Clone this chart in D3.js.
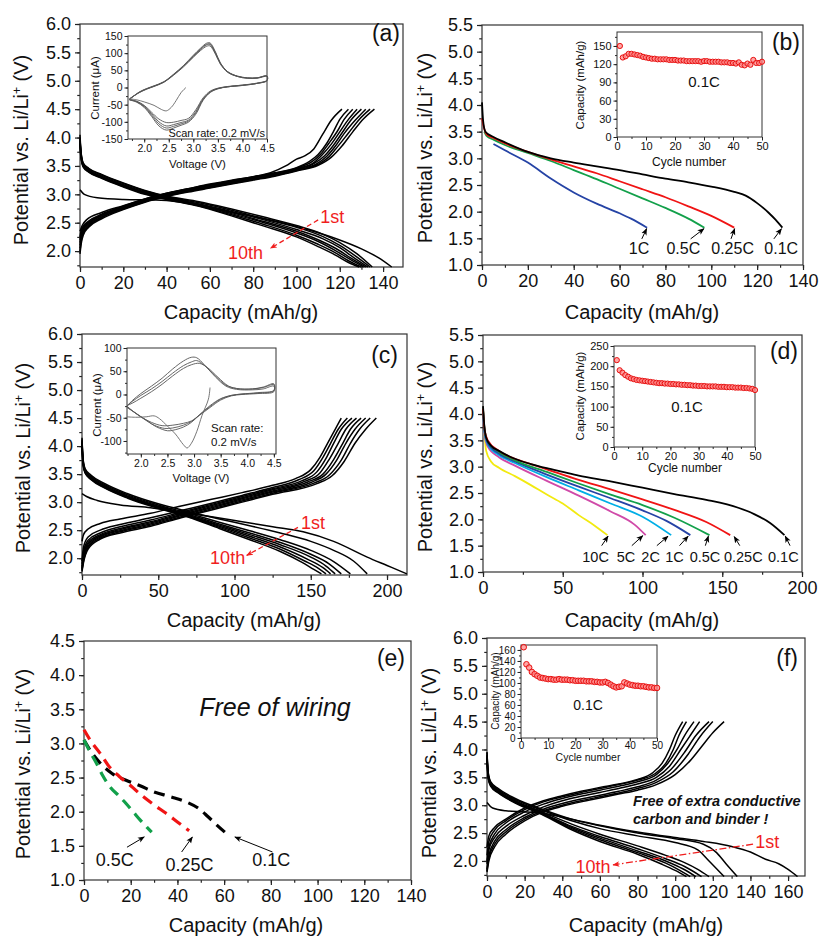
<!DOCTYPE html>
<html>
<head>
<meta charset="utf-8">
<script src="https://cdn.jsdelivr.net/npm/d3@7/dist/d3.min.js"></script>
<style>
  body { margin: 0; background: #fff; }
  svg { font-family: "Liberation Sans", Arial, Helvetica, sans-serif; }
</style>
</head>
<body>
<svg id="fig" width="820" height="937"></svg>
<script>
// ---- data ----

// (a) charge / discharge, [capacity mAh/g, potential V]
const aDischarge = [
  [[0,3.08],[2,3.0],[8,2.94],[20,2.91],[35,2.9],[45,2.87],[60,2.76],[75,2.65],[90,2.53],[105,2.38],[119,2.21],[130,2.04],[138,1.88],[144,1.72]],
  [[0,4.05],[0.4,3.78],[1.5,3.55],[4,3.46],[10,3.35],[20,3.2],[30,3.07],[40,2.97],[55,2.87],[70,2.74],[85,2.6],[100,2.45],[112,2.3],[120,2.15],[128,1.95],[135,1.72]],
  [[0,4.0],[0.4,3.76],[1.5,3.54],[4,3.45],[10,3.34],[20,3.19],[30,3.06],[40,2.96],[55,2.85],[70,2.72],[85,2.57],[100,2.42],[112,2.26],[120,2.1],[127,1.92],[134,1.72]],
  [[0,3.98],[0.4,3.74],[1.5,3.52],[4,3.43],[10,3.32],[20,3.17],[30,3.04],[40,2.95],[55,2.83],[70,2.7],[85,2.55],[100,2.38],[112,2.22],[120,2.06],[126,1.9],[133,1.72]],
  [[0,3.95],[0.4,3.72],[1.5,3.51],[4,3.42],[10,3.31],[20,3.16],[30,3.03],[40,2.94],[55,2.82],[70,2.68],[85,2.52],[100,2.35],[110,2.2],[118,2.05],[125,1.88],[132,1.72]],
  [[0,3.93],[0.4,3.7],[1.5,3.5],[4,3.41],[10,3.3],[20,3.15],[30,3.02],[40,2.93],[55,2.81],[70,2.66],[85,2.5],[100,2.32],[110,2.17],[118,2.01],[125,1.85],[131,1.72]],
  [[0,3.9],[0.4,3.68],[1.5,3.49],[4,3.4],[10,3.29],[20,3.14],[30,3.01],[40,2.92],[55,2.8],[70,2.64],[85,2.47],[100,2.28],[110,2.12],[118,1.97],[124,1.83],[130,1.72]],
  [[0,3.88],[0.4,3.66],[1.5,3.48],[4,3.39],[10,3.28],[20,3.13],[30,3.0],[40,2.91],[55,2.79],[70,2.62],[85,2.44],[100,2.25],[110,2.08],[118,1.93],[124,1.8],[129,1.72]]
];
const aCharge = [
  [[0,2.35],[1,2.45],[3,2.55],[10,2.68],[20,2.8],[30,2.92],[40,3.02],[50,3.1],[60,3.18],[70,3.25],[80,3.31],[88,3.38],[95,3.5],[100,3.62],[104,3.68],[108,3.8],[112,4.05],[116,4.3],[121,4.5]],
  [[0,2.25],[0.5,2.36],[1.5,2.44],[4,2.53],[10,2.65],[20,2.79],[30,2.92],[40,3.02],[50,3.1],[60,3.17],[70,3.24],[80,3.31],[90,3.38],[100,3.47],[106,3.58],[110,3.7],[114,3.9],[117,4.1],[120,4.32],[124,4.5]],
  [[0,2.2],[0.5,2.32],[1.5,2.42],[4,2.51],[10,2.64],[20,2.78],[30,2.91],[40,3.01],[50,3.09],[60,3.16],[70,3.23],[80,3.3],[90,3.37],[100,3.46],[107,3.57],[111,3.7],[115,3.9],[119,4.12],[122,4.32],[126,4.5]],
  [[0,2.15],[0.5,2.28],[1.5,2.4],[4,2.5],[10,2.63],[20,2.77],[30,2.9],[40,3.0],[50,3.08],[60,3.15],[70,3.22],[80,3.29],[90,3.36],[100,3.45],[108,3.56],[112,3.7],[116,3.88],[120,4.1],[124,4.32],[128,4.5]],
  [[0,2.1],[0.5,2.24],[1.5,2.37],[4,2.48],[10,2.62],[20,2.76],[30,2.89],[40,2.99],[50,3.07],[60,3.14],[70,3.21],[80,3.28],[90,3.35],[100,3.44],[108,3.54],[113,3.68],[117,3.86],[121,4.08],[125,4.3],[130,4.5]],
  [[0,2.05],[0.5,2.2],[1.5,2.34],[4,2.46],[10,2.6],[20,2.75],[30,2.88],[40,2.98],[50,3.06],[60,3.13],[70,3.2],[80,3.27],[90,3.34],[100,3.43],[109,3.53],[114,3.67],[118,3.85],[122,4.07],[127,4.3],[132,4.5]],
  [[0,2.0],[0.5,2.16],[1.5,2.31],[4,2.44],[10,2.59],[20,2.74],[30,2.87],[40,2.97],[50,3.05],[60,3.12],[70,3.19],[80,3.26],[90,3.33],[100,3.42],[110,3.53],[115,3.66],[119,3.84],[124,4.08],[129,4.32],[134,4.5]],
  [[0,1.95],[0.5,2.12],[1.5,2.28],[4,2.42],[10,2.57],[20,2.73],[30,2.86],[40,2.96],[50,3.04],[60,3.11],[70,3.18],[80,3.25],[90,3.32],[100,3.41],[110,3.51],[116,3.65],[121,3.85],[126,4.1],[131,4.33],[136,4.5]]
];

// (a) inset: cyclic voltammetry, [voltage V, current uA]
const aCvFirst = [[2.85,0],[2.75,-15],[2.65,-38],[2.55,-58],[2.45,-68],[2.35,-64],[2.2,-52],[2.0,-42],[1.85,-36],[1.7,-33]];
const aCvLoops = [
  [[1.7,-33],[1.9,-15],[2.05,-5],[2.2,3],[2.4,15],[2.6,36],[2.8,60],[3.0,88],[3.15,108],[3.27,120],[3.34,121],[3.45,97],[3.55,68],[3.7,44],[3.9,32],[4.1,27],[4.3,27],[4.5,32],
   [4.5,20],[4.3,12],[4.0,7],[3.7,3],[3.5,-2],[3.35,-10],[3.2,-30],[3.05,-65],[2.9,-90],[2.75,-96],[2.6,-101],[2.45,-102],[2.3,-92],[2.15,-72],[2.0,-52],[1.85,-40],[1.7,-35]],
  [[1.7,-33],[1.9,-14],[2.05,-4],[2.2,4],[2.4,16],[2.6,37],[2.8,62],[3.0,90],[3.15,111],[3.27,124],[3.34,125],[3.45,100],[3.55,70],[3.7,45],[3.9,32],[4.1,27],[4.3,28],[4.5,33],
   [4.5,20],[4.3,12],[4.0,6],[3.7,2],[3.5,-3],[3.35,-12],[3.2,-33],[3.05,-70],[2.9,-95],[2.75,-102],[2.6,-108],[2.45,-112],[2.3,-100],[2.15,-76],[2.0,-54],[1.85,-41],[1.7,-35]],
  [[1.7,-34],[1.9,-14],[2.05,-4],[2.2,4],[2.4,16],[2.6,38],[2.8,63],[3.0,92],[3.15,113],[3.27,126],[3.34,127],[3.45,102],[3.55,71],[3.7,46],[3.9,33],[4.1,28],[4.3,28],[4.5,33],
   [4.5,21],[4.3,12],[4.0,6],[3.7,2],[3.5,-3],[3.35,-13],[3.2,-35],[3.05,-74],[2.9,-98],[2.75,-106],[2.6,-113],[2.45,-118],[2.3,-106],[2.15,-80],[2.0,-56],[1.85,-42],[1.7,-36]],
  [[1.7,-35],[1.9,-13],[2.05,-3],[2.2,5],[2.4,17],[2.6,39],[2.8,64],[3.0,94],[3.15,115],[3.27,129],[3.34,130],[3.45,104],[3.55,72],[3.7,46],[3.9,33],[4.1,28],[4.3,28],[4.5,34],
   [4.5,21],[4.3,13],[4.0,7],[3.7,2],[3.5,-4],[3.35,-14],[3.2,-37],[3.05,-78],[2.9,-101],[2.75,-110],[2.6,-118],[2.45,-124],[2.3,-112],[2.15,-84],[2.0,-58],[1.85,-43],[1.7,-36]]
];

// (b) discharge at several rates
const bRates = ['0.1C', '0.25C', '0.5C', '1C'];
const bCurves = [
  [[0,4.05],[0.5,3.7],[1.5,3.5],[5,3.4],[10,3.3],[20,3.12],[30,3.0],[40,2.92],[50,2.85],[60,2.78],[70,2.7],[80,2.62],[90,2.55],[100,2.47],[110,2.37],[115,2.3],[120,2.16],[125,1.98],[128,1.85],[131,1.7]],
  [[0,3.75],[1,3.55],[2,3.45],[5,3.38],[10,3.28],[20,3.12],[30,2.98],[40,2.85],[50,2.72],[60,2.57],[70,2.42],[80,2.27],[90,2.1],[100,1.92],[110,1.7]],
  [[1,3.5],[2,3.42],[5,3.35],[10,3.25],[20,3.1],[30,2.95],[40,2.78],[50,2.61],[60,2.43],[70,2.25],[80,2.07],[90,1.87],[97,1.7]],
  [[5,3.27],[10,3.15],[20,2.92],[30,2.62],[40,2.36],[50,2.15],[60,1.97],[65,1.87],[72,1.7]]
];
// (b) inset: capacity vs cycle number at 0.1C
const cycles = d3.range(1, 51);
const bCycleCap = [150,131,133,137,137,136,135,134,132,131,130,129,129,128,128,128,128,127,127,127,126,126,126,125,125,125,125,125,124,125,125,124,124,124,124,123,123,123,122,122,121,123,119,118,121,119,127,122,122,124];

// (c) charge / discharge
const cDischarge = [
  [[0,3.15],[3,3.1],[10,3.03],[25,2.95],[45,2.9],[65,2.82],[85,2.74],[105,2.65],[125,2.56],[145,2.47],[165,2.3],[187,2.02],[200,1.87],[213,1.72]],
  [[0,4.15],[0.6,3.8],[2,3.6],[6,3.48],[15,3.33],[30,3.15],[50,2.97],[70,2.83],[90,2.7],[110,2.58],[130,2.45],[150,2.3],[165,2.14],[178,1.95],[187,1.72]],
  [[0,4.12],[0.6,3.78],[2,3.58],[6,3.46],[15,3.31],[30,3.13],[50,2.95],[70,2.8],[90,2.64],[110,2.49],[130,2.33],[150,2.14],[165,1.94],[176,1.72]],
  [[0,4.1],[0.6,3.76],[2,3.56],[6,3.44],[15,3.29],[30,3.11],[50,2.93],[70,2.78],[90,2.61],[110,2.45],[130,2.28],[150,2.07],[162,1.9],[170,1.72]],
  [[0,4.08],[0.6,3.74],[2,3.55],[6,3.43],[15,3.28],[30,3.1],[50,2.92],[70,2.76],[90,2.59],[110,2.42],[130,2.24],[150,2.02],[160,1.86],[166,1.72]],
  [[0,4.06],[0.6,3.72],[2,3.54],[6,3.42],[15,3.27],[30,3.09],[50,2.91],[70,2.75],[90,2.57],[110,2.39],[130,2.2],[148,1.98],[158,1.83],[163,1.72]],
  [[0,4.04],[0.6,3.7],[2,3.53],[6,3.41],[15,3.26],[30,3.08],[50,2.9],[70,2.74],[90,2.55],[110,2.36],[130,2.16],[146,1.95],[155,1.82],[160,1.72]],
  [[0,4.02],[0.6,3.68],[2,3.52],[6,3.4],[15,3.25],[30,3.07],[50,2.89],[70,2.73],[90,2.53],[110,2.33],[130,2.12],[144,1.93],[152,1.8],[157,1.72]]
];
const cCharge = [
  [[0,2.3],[1,2.42],[4,2.52],[12,2.62],[25,2.7],[45,2.8],[65,2.93],[85,3.05],[105,3.17],[125,3.3],[140,3.42],[150,3.58],[156,3.8],[161,4.05],[166,4.3],[170,4.5]],
  [[0,1.95],[1,2.2],[4,2.38],[12,2.5],[25,2.6],[45,2.72],[65,2.85],[85,2.98],[105,3.12],[125,3.26],[142,3.4],[152,3.56],[158,3.8],[163,4.05],[168,4.3],[174,4.5]],
  [[0,1.9],[1,2.12],[4,2.32],[12,2.45],[25,2.56],[45,2.68],[65,2.82],[85,2.96],[105,3.1],[125,3.24],[144,3.38],[154,3.54],[160,3.78],[165,4.05],[170,4.3],[177,4.5]],
  [[0,1.85],[1,2.06],[4,2.28],[12,2.42],[25,2.53],[45,2.65],[65,2.8],[85,2.94],[105,3.08],[125,3.22],[146,3.37],[156,3.52],[162,3.76],[168,4.05],[173,4.3],[180,4.5]],
  [[0,1.82],[1,2.02],[4,2.25],[12,2.4],[25,2.51],[45,2.63],[65,2.78],[85,2.92],[105,3.06],[125,3.2],[148,3.36],[158,3.5],[165,3.76],[171,4.05],[176,4.3],[183,4.5]],
  [[0,1.8],[1,1.98],[4,2.22],[12,2.38],[25,2.49],[45,2.61],[65,2.76],[85,2.9],[105,3.04],[125,3.18],[150,3.35],[160,3.5],[167,3.75],[173,4.05],[179,4.3],[186,4.5]],
  [[0,1.78],[1,1.95],[4,2.19],[12,2.36],[25,2.47],[45,2.59],[65,2.74],[85,2.88],[105,3.02],[125,3.16],[152,3.34],[162,3.48],[170,3.75],[176,4.05],[182,4.3],[189,4.5]],
  [[0,1.76],[1,1.92],[4,2.16],[12,2.34],[25,2.45],[45,2.57],[65,2.72],[85,2.86],[105,3.0],[125,3.14],[154,3.33],[164,3.47],[172,3.73],[179,4.05],[186,4.3],[193,4.5]]
];
// (c) inset CV
const cCvFirst = [[3.3,15],[3.27,-10],[3.15,-45],[3.05,-80],[2.95,-105],[2.87,-115],[2.8,-108],[2.65,-85],[2.5,-68],[2.35,-52],[2.25,-46],[2.1,-48],[1.9,-49],[1.74,-48]];
const cCvLoops = [
  [[1.74,-25],[1.85,-12],[2.0,2],[2.2,18],[2.4,35],[2.6,55],[2.8,72],[2.95,80],[3.05,79],[3.2,63],[3.4,38],[3.6,18],[3.8,11],[4.1,10],[4.3,12],[4.5,18],
   [4.5,6],[4.2,2],[3.9,0],[3.7,-3],[3.5,-12],[3.3,-28],[3.1,-45],[2.95,-57],[2.8,-62],[2.6,-66],[2.4,-67],[2.2,-60],[2.0,-48],[1.85,-36],[1.74,-25]],
  [[1.74,-24],[1.85,-14],[2.0,-2],[2.2,12],[2.4,28],[2.6,46],[2.8,62],[2.95,70],[3.05,73],[3.2,62],[3.4,40],[3.6,20],[3.8,13],[4.1,12],[4.3,15],[4.5,21],
   [4.5,8],[4.2,3],[3.9,1],[3.7,-2],[3.5,-10],[3.3,-26],[3.1,-44],[2.95,-58],[2.8,-66],[2.6,-72],[2.45,-73],[2.25,-66],[2.05,-52],[1.88,-38],[1.74,-27]],
  [[1.74,-24],[1.85,-18],[2.0,-8],[2.2,6],[2.4,22],[2.6,40],[2.8,56],[2.95,64],[3.1,67],[3.25,58],[3.45,37],[3.65,18],[3.85,12],[4.1,12],[4.3,16],[4.5,23],
   [4.5,9],[4.2,4],[3.9,1],[3.7,-2],[3.5,-9],[3.3,-24],[3.1,-44],[2.95,-60],[2.8,-70],[2.6,-77],[2.5,-78],[2.3,-70],[2.1,-55],[1.9,-40],[1.74,-28]]
];

// (d) discharge at several rates
const dRates = ['0.1C', '0.25C', '0.5C', '1C', '2C', '5C', '10C'];
const dCurves = [
  [[0,4.15],[0.5,3.9],[2,3.55],[5,3.4],[10,3.3],[20,3.15],[30,3.05],[40,2.97],[50,2.9],[60,2.83],[80,2.72],[100,2.6],[120,2.48],[140,2.37],[160,2.22],[170,2.1],[180,1.93],[189,1.7]],
  [[0,4.1],[1,3.7],[3,3.5],[10,3.3],[20,3.15],[30,3.05],[40,2.95],[60,2.75],[80,2.57],[100,2.38],[120,2.18],[140,1.95],[155,1.7]],
  [[0,4.1],[1,3.7],[3,3.48],[10,3.28],[20,3.12],[40,2.9],[60,2.68],[80,2.47],[100,2.27],[120,2.03],[142,1.7]],
  [[0,4.08],[1,3.66],[3,3.45],[10,3.25],[20,3.1],[40,2.85],[60,2.62],[80,2.4],[100,2.17],[115,1.97],[130,1.7]],
  [[0,4.06],[1,3.63],[3,3.42],[10,3.22],[20,3.07],[40,2.8],[60,2.55],[80,2.3],[100,2.05],[118,1.7]],
  [[0,4.04],[1,3.6],[3,3.38],[10,3.18],[20,3.02],[40,2.73],[60,2.45],[80,2.15],[95,1.9],[102,1.7]],
  [[0,4.1],[1,3.6],[2,3.3],[5,3.1],[10,2.98],[20,2.82],[30,2.65],[40,2.47],[50,2.3],[60,2.08],[70,1.88],[78,1.7]]
];
// (d) inset
const dCycleCap = [215,190,184,178,174,170,168,166,165,164,163,162,161,160,159,158,158,157,157,156,156,155,155,154,154,153,153,152,152,151,151,151,150,150,150,150,149,149,149,148,148,148,147,147,147,146,146,145,144,141];

// (e) wiring-free cell
const eRates = ['0.1C', '0.25C', '0.5C'];
const eCurves = [
  [[0,3.05],[3,2.88],[7,2.71],[12,2.56],[18,2.46],[24,2.38],[30,2.29],[37,2.22],[44,2.14],[49,2.05],[53,1.93],[57,1.8],[61,1.68]],
  [[0,3.2],[3,3.03],[7,2.85],[11,2.65],[15,2.52],[20,2.38],[25,2.23],[30,2.1],[35,1.98],[40,1.85],[45,1.72]],
  [[0,3.05],[3,2.85],[5.5,2.7],[8,2.53],[11,2.37],[15,2.23],[18,2.12],[21,2.0],[24,1.88],[27,1.77],[29,1.7]]
];

// (f) binder-free electrode
const fDischarge = [
  [[0,3.05],[3,2.95],[10,2.9],[20,2.88],[30,2.85],[45,2.75],[60,2.64],[80,2.52],[100,2.42],[115,2.35],[130,2.26],[140,2.16],[148,2.03],[155,1.95],[160,1.85],[165,1.72]],
  [[0,3.95],[0.6,3.6],[2,3.42],[6,3.3],[15,3.12],[30,2.92],[45,2.75],[60,2.63],[80,2.5],[100,2.4],[115,2.3],[122,2.15],[127,1.95],[133,1.72]],
  [[0,3.95],[0.6,3.58],[2,3.4],[6,3.28],[15,3.1],[30,2.9],[45,2.72],[60,2.58],[80,2.45],[100,2.33],[112,2.2],[118,2.0],[126,1.72]],
  [[0,3.9],[0.6,3.55],[2,3.38],[6,3.26],[15,3.08],[30,2.87],[45,2.66],[60,2.48],[80,2.27],[95,2.1],[105,1.97],[112,1.85],[118,1.72]],
  [[0,3.88],[0.6,3.53],[2,3.37],[6,3.25],[15,3.07],[30,2.85],[45,2.62],[60,2.44],[80,2.22],[95,2.04],[105,1.9],[114,1.72]],
  [[0,3.86],[0.6,3.52],[2,3.36],[6,3.24],[15,3.06],[30,2.84],[45,2.6],[60,2.41],[80,2.18],[95,2.0],[104,1.86],[111,1.72]],
  [[0,3.84],[0.6,3.5],[2,3.35],[6,3.23],[15,3.05],[30,2.83],[45,2.58],[60,2.38],[80,2.15],[95,1.96],[102,1.84],[108,1.72]],
  [[0,3.82],[0.6,3.48],[2,3.34],[6,3.22],[15,3.04],[30,2.82],[45,2.56],[60,2.35],[80,2.12],[93,1.94],[100,1.83],[106,1.72]]
];
const fCharge = [
  [[0,2.25],[1,2.45],[4,2.6],[10,2.75],[20,2.95],[30,3.08],[40,3.17],[50,3.25],[60,3.32],[70,3.38],[80,3.46],[88,3.58],[93,3.75],[97,4.0],[100,4.25],[104,4.5]],
  [[0,2.1],[1,2.35],[4,2.55],[10,2.72],[20,2.92],[30,3.06],[40,3.15],[50,3.23],[60,3.3],[70,3.37],[80,3.45],[89,3.56],[95,3.75],[99,4.0],[102,4.25],[106,4.5]],
  [[0,2.0],[1,2.25],[4,2.48],[10,2.68],[20,2.88],[30,3.02],[40,3.12],[50,3.2],[60,3.27],[70,3.34],[80,3.42],[90,3.55],[96,3.75],[101,4.0],[105,4.25],[110,4.5]],
  [[0,1.95],[1,2.2],[4,2.42],[10,2.62],[20,2.82],[30,2.97],[40,3.08],[50,3.16],[60,3.23],[70,3.3],[80,3.38],[90,3.5],[97,3.7],[103,4.0],[108,4.25],[113,4.5]],
  [[0,1.85],[1,2.1],[4,2.35],[10,2.56],[20,2.78],[30,2.93],[40,3.03],[50,3.11],[60,3.18],[70,3.25],[80,3.33],[90,3.45],[98,3.65],[105,3.95],[111,4.25],[118,4.5]],
  [[0,1.82],[1,2.05],[4,2.3],[10,2.52],[20,2.75],[30,2.9],[40,3.0],[50,3.08],[60,3.15],[70,3.22],[80,3.3],[90,3.41],[99,3.6],[107,3.92],[113,4.22],[120,4.5]],
  [[0,1.8],[1,2.0],[4,2.25],[10,2.48],[20,2.72],[30,2.88],[40,2.98],[50,3.06],[60,3.13],[70,3.2],[80,3.27],[90,3.37],[100,3.55],[108,3.8],[114,4.05],[120,4.3],[126,4.5]]
];
// (f) inset
const fCycleCap = [165,134,128,120,116,113,110,109,108,107,107,106,106,107,106,106,106,105,105,104,104,104,104,103,103,103,102,102,101,101,102,100,97,94,92,93,94,101,99,97,96,95,95,94,94,93,92,92,91,91];

// tick labels
const vTicks6 = [2.0, 2.5, 3.0, 3.5, 4.0, 4.5, 5.0, 5.5, 6.0];
const vTicks55 = [1.0, 1.5, 2.0, 2.5, 3.0, 3.5, 4.0, 4.5, 5.0, 5.5];
const vTicks45 = [1.0, 1.5, 2.0, 2.5, 3.0, 3.5, 4.0, 4.5];
const cap140 = [0, 20, 40, 60, 80, 100, 120, 140];
const cap160 = [0, 20, 40, 60, 80, 100, 120, 140, 160];
const cap200 = [0, 50, 100, 150, 200];
const cvVolt = [2.0, 2.5, 3.0, 3.5, 4.0, 4.5];
const cycleTicks = [0, 10, 20, 30, 40, 50];

// colours
const rateColors = {
  '0.1C': '#000000', '0.25C': '#f01414', '0.5C': '#12a04a', '1C': '#2543a5',
  '2C': '#00aee6', '5C': '#d04aa8', '10C': '#f2ea10'
};
const RED = '#f01e1e';

// ---- drawing ----
const svg = d3.select('#fig');
const defs = svg.append('defs');
function marker(id, color) {
  defs.append('marker')
    .attr('id', id)
    .attr('viewBox', '0 0 10 10')
    .attr('refX', 9).attr('refY', 5)
    .attr('markerWidth', 7).attr('markerHeight', 7)
    .attr('markerUnits', 'userSpaceOnUse')
    .attr('orient', 'auto')
    .append('path')
    .attr('d', 'M0,1L10,5L0,9L2.5,5z')
    .attr('fill', color);
}
marker('arrB', '#000');
marker('arrR', RED);

const f1 = d3.format('.1f');
const plain = (d) => String(d);
const noLabel = () => '';

function panel(o) {
  const x = d3.scaleLinear().domain(o.xd).range([o.l, o.r]);
  const y = d3.scaleLinear().domain(o.yd).range([o.b, o.t]);
  const g = svg.append('g');
  if (o.bg) {
    g.append('rect').attr('x', o.l).attr('y', o.t)
      .attr('width', o.r - o.l).attr('height', o.b - o.t).attr('fill', '#fff');
  }
  const add = (gen, vals, fmt, size, pad, tr) =>
    g.append('g').attr('transform', tr)
      .call(gen.tickValues(vals).tickFormat(fmt).tickSize(size).tickSizeOuter(0).tickPadding(pad));
  const inX = (v) => v >= o.xd[0] - 1e-9 && v <= o.xd[1] + 1e-9;
  const inY = (v) => v >= o.yd[0] - 1e-9 && v <= o.yd[1] + 1e-9;
  add(d3.axisBottom(x), o.xm.filter(inX), noLabel, o.tk * 0.55, 0, `translate(0,${o.b})`);
  add(d3.axisLeft(y), o.ym.filter(inY), noLabel, o.tk * 0.55, 0, `translate(${o.l},0)`);
  add(d3.axisBottom(x), o.xt, o.fx, o.tk, o.padX != null ? o.padX : o.pad, `translate(0,${o.b})`);
  add(d3.axisLeft(y), o.yt, o.fy, o.tk, o.pad, `translate(${o.l},0)`);
  g.selectAll('.domain').remove();
  g.selectAll('g').attr('font-family', null).attr('font-size', null);
  g.selectAll('.tick line').attr('stroke', '#222').attr('stroke-width', o.sw);
  g.selectAll('.tick text').attr('font-size', o.fs).attr('fill', '#111');
  g.append('rect').attr('x', o.l).attr('y', o.t)
    .attr('width', o.r - o.l).attr('height', o.b - o.t)
    .attr('fill', 'none').attr('stroke', '#333').attr('stroke-width', o.sw);
  return { x, y, g };
}

function lines(p, curves, color, width, curve, dash) {
  const line = d3.line().x((d) => p.x(d[0])).y((d) => p.y(d[1])).curve(curve || d3.curveMonotoneX);
  p.g.append('g').selectAll('path').data(curves).join('path')
    .attr('d', line)
    .attr('fill', 'none')
    .attr('stroke', typeof color === 'function' ? color : () => color)
    .attr('stroke-width', width)
    .attr('stroke-dasharray', dash || null)
    .attr('stroke-linejoin', 'round');
}

function dots(p, values, r) {
  p.g.append('g').selectAll('circle').data(values).join('circle')
    .attr('cx', (d, i) => p.x(cycles[i]))
    .attr('cy', (d) => p.y(d))
    .attr('r', r)
    .attr('fill', '#ff8a8a')
    .attr('fill-opacity', 0.75)
    .attr('stroke', '#e81010')
    .attr('stroke-width', 1);
}

function text(x, y, str, size, opts) {
  opts = opts || {};
  const t = svg.append('text').attr('x', x).attr('y', y)
    .attr('font-size', size)
    .attr('text-anchor', opts.anchor || 'middle')
    .attr('fill', opts.color || '#111')
    .text(str);
  if (opts.style) t.attr('font-style', opts.style);
  if (opts.weight) t.attr('font-weight', opts.weight);
  if (opts.rotate) t.attr('transform', `rotate(-90,${x},${y})`);
  return t;
}

function potentialTitle(xc, yc) {
  const t = svg.append('text')
    .attr('transform', `translate(${xc},${yc}) rotate(-90)`)
    .attr('text-anchor', 'middle').attr('dy', '0.35em')
    .attr('font-size', 20).attr('fill', '#111');
  t.append('tspan').text('Potential vs. Li/Li');
  t.append('tspan').attr('baseline-shift', 'super').attr('font-size', 12).text('+');
  t.append('tspan').text(' (V)');
}

function arrow(p, x1, y1, x2, y2, id, color, width, dash) {
  p.g.append('line')
    .attr('x1', p.x(x1)).attr('y1', p.y(y1))
    .attr('x2', p.x(x2)).attr('y2', p.y(y2))
    .attr('stroke', color).attr('stroke-width', width)
    .attr('stroke-dasharray', dash || null)
    .attr('marker-end', `url(#${id})`);
}

function dataText(p, x, y, str, size, opts) {
  return text(p.x(x), p.y(y), str, size, opts).attr('dy', '0.35em');
}

const mainStyle = { tk: 5, pad: 4, fs: 18, sw: 1.2 };
const insetStyle = { tk: 3.5, pad: 2, fs: 10.5, sw: 1 };

// ---------- (a) ----------
const pa = panel(Object.assign({}, mainStyle, {
  l: 80, r: 403, t: 24, b: 267, xd: [0, 149.2], yd: [1.72, 6],
  xt: cap140, xm: d3.range(0, 150, 10), yt: vTicks6, ym: d3.range(1.75, 6.01, 0.25),
  fx: plain, fy: f1
}));
lines(pa, aDischarge, '#000', 1.5);
lines(pa, aCharge, '#000', 1.5);
arrow(pa, 110, 2.55, 88, 2.05, 'arrR', RED, 1.3, '5,3');
dataText(pa, 116.5, 2.6, '1st', 18, { color: RED });
dataText(pa, 76.5, 1.98, '10th', 18, { color: RED });
text(400, 41, '(a)', 23, { anchor: 'end' });
potentialTitle(21, 150);
text(241, 319, 'Capacity (mAh/g)', 20);

const ia = panel(Object.assign({}, insetStyle, {
  l: 128, r: 267, t: 36, b: 139, xd: [1.67, 4.5], yd: [-150, 150], bg: true,
  xt: cvVolt, xm: d3.range(1.75, 4.5, 0.25), yt: [-150, -100, -50, 0, 50, 100, 150], ym: d3.range(-125, 150, 25),
  fx: f1, fy: plain
}));
lines(ia, aCvLoops, '#555', 0.9, d3.curveCatmullRom);
lines(ia, [aCvFirst], '#666', 0.9, d3.curveCatmullRom);
text(265, 137, 'Scan rate: 0.2 mV/s', 11, { anchor: 'end' });
text(95, 88, 'Current (\u03bcA)', 11.5, { rotate: true }).attr('dy', '0.35em');
text(197.5, 168, 'Voltage (V)', 11.5);

// ---------- (b) ----------
const pb = panel(Object.assign({}, mainStyle, {
  l: 482, r: 803, t: 25, b: 265, xd: [0, 140], yd: [1, 5.5],
  xt: cap140, xm: d3.range(0, 141, 10), yt: vTicks55, ym: d3.range(1, 5.51, 0.25),
  fx: plain, fy: f1
}));
lines(pb, bCurves.slice().reverse(), (d, i) => rateColors[bRates[bRates.length - 1 - i]], 1.8);
const bLab = [[130.5, 127.3, 1.49, 130.6, 1.68], [109.3, 108.6, 1.49, 110.2, 1.68], [87.8, 91, 1.49, 96.8, 1.68], [68.5, 69.7, 1.49, 71.8, 1.68]];
bRates.forEach((r, i) => {
  const [tx, ax1, ay1, ax2, ay2] = bLab[i];
  arrow(pb, ax1, ay1, ax2, ay2, 'arrB', '#000', 1);
  dataText(pb, tx, 1.31, r, 16);
});
text(800, 50, '(b)', 23, { anchor: 'end' });
potentialTitle(425, 148);
text(642, 319, 'Capacity (mAh/g)', 20);

const ib = panel(Object.assign({}, insetStyle, {
  l: 617, r: 762, t: 32, b: 137, xd: [0, 50], yd: [0, 173], bg: true, fs: 11,
  xt: cycleTicks, xm: d3.range(0, 51, 5), yt: [0, 30, 60, 90, 120, 150], ym: d3.range(0, 170, 15),
  fx: plain, fy: plain
}));
dots(ib, bCycleCap, 2.6);
text(704, 82, '0.1C', 15).attr('dy', '0.35em');
text(580, 85, 'Capacity (mAh/g)', 11.5, { rotate: true }).attr('dy', '0.35em');
text(689, 166, 'Cycle number', 12);

// ---------- (c) ----------
const pc = panel(Object.assign({}, mainStyle, {
  l: 82, r: 407, t: 334, b: 575, xd: [0, 213.1], yd: [1.7, 6],
  xt: cap200, xm: d3.range(0, 214, 25), yt: vTicks6, ym: d3.range(1.75, 6.01, 0.25),
  fx: plain, fy: f1
}));
lines(pc, cDischarge, '#000', 1.5);
lines(pc, cCharge, '#000', 1.5);
arrow(pc, 141.6, 2.55, 108, 2.05, 'arrR', RED, 1.3, '5,3');
dataText(pc, 151.5, 2.64, '1st', 18, { color: RED });
dataText(pc, 95.5, 2.0, '10th', 18, { color: RED });
text(398, 363, '(c)', 23, { anchor: 'end' });
potentialTitle(23, 458);
text(244, 627, 'Capacity (mAh/g)', 20);

const ic = panel(Object.assign({}, insetStyle, {
  l: 127, r: 276, t: 348, b: 454, xd: [1.74, 4.54], yd: [-128, 100], bg: true,
  xt: cvVolt, xm: d3.range(1.75, 4.51, 0.25), yt: [-100, -50, 0, 50, 100], ym: d3.range(-125, 101, 25),
  fx: f1, fy: plain
}));
lines(ic, cCvLoops, '#555', 0.9, d3.curveCatmullRom);
lines(ic, [cCvFirst], '#666', 0.9, d3.curveCatmullRom);
text(211, 432, 'Scan rate:', 11.5, { anchor: 'start' });
text(211, 446, '0.2 mV/s', 11.5, { anchor: 'start' });
text(97, 405, 'Current (\u03bcA)', 11.5, { rotate: true }).attr('dy', '0.35em');
text(201, 482, 'Voltage (V)', 11.5);

// ---------- (d) ----------
const pd = panel(Object.assign({}, mainStyle, {
  l: 483, r: 802, t: 335, b: 572, xd: [0, 200], yd: [1, 5.5],
  xt: cap200, xm: d3.range(0, 201, 25), yt: vTicks55, ym: d3.range(1, 5.51, 0.25),
  fx: plain, fy: f1
}));
lines(pd, dCurves.slice().reverse(), (d, i) => rateColors[dRates[dRates.length - 1 - i]], 1.8);
const dLab = [
  [188.3, 192.5, 1.5, 189.5, 1.68], [163.2, 161, 1.5, 157.5, 1.67], [139.2, 139.4, 1.5, 141.3, 1.68],
  [120, 123.2, 1.5, 128.6, 1.68], [105.1, 109, 1.5, 116, 1.68], [89.6, 93.3, 1.5, 100.2, 1.69], [70.6, 74.4, 1.5, 78.4, 1.68]
];
dRates.forEach((r, i) => {
  const [tx, ax1, ay1, ax2, ay2] = dLab[i];
  arrow(pd, ax1, ay1, ax2, ay2, 'arrB', '#000', 1);
  dataText(pd, tx, 1.29, r, 14.5);
});
text(798, 359, '(d)', 23, { anchor: 'end' });
potentialTitle(425, 457);
text(642, 627, 'Capacity (mAh/g)', 20);

const id = panel(Object.assign({}, insetStyle, {
  l: 614, r: 755, t: 346, b: 447, xd: [0, 50], yd: [0, 250], bg: true, fs: 11,
  xt: cycleTicks, xm: d3.range(0, 51, 5), yt: [0, 50, 100, 150, 200, 250], ym: d3.range(0, 251, 25),
  fx: plain, fy: plain
}));
dots(id, dCycleCap, 2.6);
text(687, 407, '0.1C', 15).attr('dy', '0.35em');
text(580, 396, 'Capacity (mAh/g)', 11.5, { rotate: true }).attr('dy', '0.35em');
text(685, 472, 'Cycle number', 12);

// ---------- (e) ----------
const pe = panel(Object.assign({}, mainStyle, {
  l: 84, r: 411, t: 641, b: 880, xd: [0, 140], yd: [1, 4.5],
  xt: cap140, xm: d3.range(0, 141, 10), yt: vTicks45, ym: d3.range(1, 4.51, 0.25),
  fx: plain, fy: f1
}));
lines(pe, eCurves, (d, i) => rateColors[eRates[i]], 3.2, d3.curveMonotoneX, '11,7');
const eLab = [[80.2, 1.29, 80.7, 1.41, 64.6, 1.63], [45.2, 1.22, 41.8, 1.41, 46.4, 1.63], [13.2, 1.29, 18.4, 1.48, 25.8, 1.63]];
eRates.forEach((r, i) => {
  const [tx, ty, ax1, ay1, ax2, ay2] = eLab[i];
  arrow(pe, ax1, ay1, ax2, ay2, 'arrB', '#000', 1);
  dataText(pe, tx, ty, r, 18);
});
text(275, 716, 'Free of wiring', 25, { style: 'italic' });
text(405, 666, '(e)', 23, { anchor: 'end' });
potentialTitle(23, 764);
text(246, 932, 'Capacity (mAh/g)', 20);

// ---------- (f) ----------
const pf = panel(Object.assign({}, mainStyle, {
  l: 487, r: 805, t: 638, b: 876, xd: [0, 169], yd: [1.73, 6],
  xt: cap160, xm: d3.range(0, 170, 10), yt: vTicks6, ym: d3.range(1.75, 6.01, 0.25),
  fx: plain, fy: f1
}));
lines(pf, fDischarge, '#000', 1.5);
lines(pf, fCharge, '#000', 1.5);
arrow(pf, 141.4, 2.3, 67, 1.93, 'arrR', RED, 1.3, '7,2.5,1.5,2.5');
dataText(pf, 149, 2.34, '1st', 18, { color: RED });
dataText(pf, 56.3, 1.89, '10th', 18, { color: RED });
text(633, 806, 'Free of extra conductive', 14.5, { anchor: 'start', style: 'italic', weight: 'bold' });
text(633, 824, 'carbon and binder !', 14.5, { anchor: 'start', style: 'italic', weight: 'bold' });
text(798, 666, '(f)', 23, { anchor: 'end' });
potentialTitle(429, 763);
text(646, 932, 'Capacity (mAh/g)', 20);

const iF = panel(Object.assign({}, insetStyle, {
  l: 521, r: 657, t: 645, b: 738, xd: [0, 50], yd: [0, 169], bg: true, fs: 10, padX: 0.5,
  xt: cycleTicks, xm: d3.range(0, 51, 5), yt: [0, 20, 40, 60, 80, 100, 120, 140, 160], ym: d3.range(0, 170, 10),
  fx: plain, fy: plain
}));
dots(iF, fCycleCap, 2.8);
text(588, 705, '0.1C', 14).attr('dy', '0.35em');
text(495, 691, 'Capacity (mAh/g)', 10, { rotate: true }).attr('dy', '0.35em');
text(588, 761, 'Cycle number', 10.5);
</script>
</body>
</html>
